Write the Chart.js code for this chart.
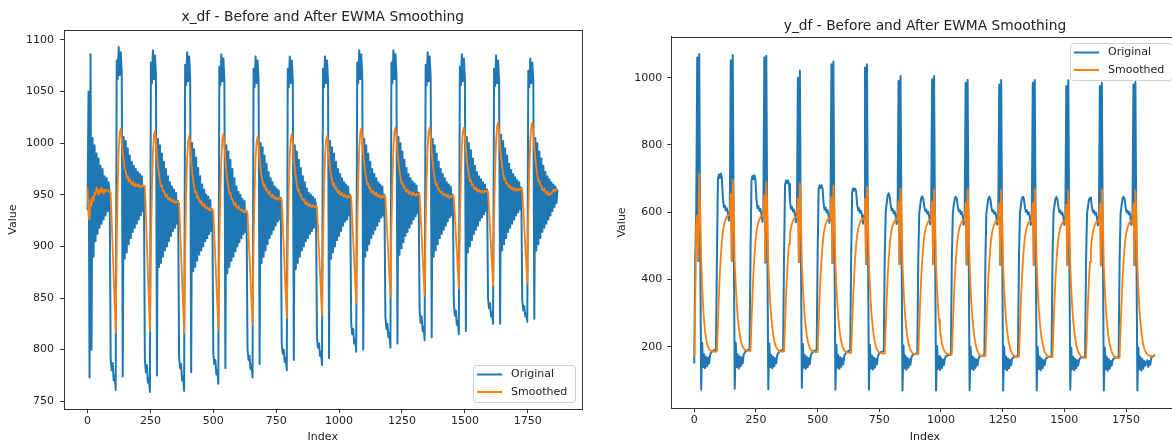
<!DOCTYPE html>
<html>
<head>
<meta charset="utf-8">
<script src="https://cdn.jsdelivr.net/npm/chart.js@4.4.1/dist/chart.umd.min.js"></script>
<style>
  html, body { margin: 0; padding: 0; background: #fff; overflow: hidden; }
  body { width: 1172px; height: 445px; position: relative; }
  canvas { position: absolute; top: 0; }
  #xChart { left: 0; }
  #yChart { left: 600px; }
</style>
</head>
<body>
<canvas id="xChart" width="590" height="445"></canvas>
<canvas id="yChart" width="600" height="445"></canvas>
<script>
// samples every 4 index steps (0, 4, 8, ... 1868)
var sampleStep = 4;

var xTicks = [0, 250, 500, 750, 1000, 1250, 1500, 1750];
var xdfValueTicks = [750, 800, 850, 900, 950, 1000, 1050, 1100];
var ydfValueTicks = [200, 400, 600, 800, 1000];

// x_df - original, one line per drop/recovery cycle
var xdfOriginal = [
  935,1050,773,1086,800,1005,890,998,905,990,912,985,918,978,922,975,926,968,930,966,934,962,950,
  791,780,787,770,775,761,1080,1062,1093,1066,1088,1070,774,1006,888,1002,894,995,902,988,908,982,914,978,918,975,922,972,926,970,930,968,934,958,
  790,778,785,768,772,759,1078,1058,1090,1062,1085,1066,775,1004,880,998,884,990,890,982,896,975,900,968,905,962,910,958,915,955,918,952,922,944,
  792,782,786,770,774,760,1076,1056,1088,1060,1084,1064,778,1000,876,994,880,986,886,976,892,968,896,960,900,955,905,950,908,948,912,945,915,936,
  796,786,790,776,780,767,1074,1056,1086,1060,1082,1062,782,998,874,992,880,984,886,975,890,966,895,958,900,953,904,950,908,946,912,944,914,934,
  800,790,794,781,785,773,1072,1054,1084,1058,1080,1060,786,1000,884,996,890,988,896,980,902,972,908,966,912,962,916,958,920,956,924,954,926,947,
  806,796,800,788,792,780,1072,1054,1084,1058,1080,1060,790,998,878,992,884,984,890,976,896,968,900,962,905,956,908,952,912,950,915,948,918,946,940,
  812,802,806,794,798,785,1072,1054,1084,1058,1080,1060,792,1002,888,996,894,990,900,982,906,975,910,970,915,966,920,962,924,960,926,958,930,950,
  826,815,820,806,810,798,1078,1058,1090,1062,1086,1066,800,1004,890,998,896,990,902,982,908,975,912,970,916,966,920,962,924,960,928,958,930,950,
  832,820,825,812,816,802,1078,1058,1090,1062,1086,1066,806,1006,892,1000,898,992,904,984,910,976,914,970,918,966,922,963,926,961,929,959,932,952,
  838,826,832,818,822,809,1076,1056,1088,1060,1084,1064,812,1004,890,998,896,990,902,982,908,975,912,970,916,966,920,962,924,960,928,958,930,950,
  845,833,838,824,828,815,1074,1056,1086,1060,1082,1062,818,1006,894,1000,900,993,906,985,912,978,916,972,920,968,925,965,928,962,931,960,934,955,
  850,840,845,832,836,825,1072,1055,1085,1058,1080,1060,825,1008,896,1002,902,995,908,988,914,980,918,974,922,970,926,967,930,964,933,962,936,957,
  848,838,842,832,835,827,1070,1054,1082,1058,1078,1060,830,1005,896,1000,902,992,908,985,914,978,918,972,922,968,926,965,930,962,934,960,938,958,942,955
];

var xdfSmoothed = [
  956,930,926,945,940,948,944,952,950,957,954,950,955,952,957,954,951,955,953,955,954,953,953,
  952,925,898,871,844,817,902,958,993,1010,1014,1004,990,982,975,972,966,968,963,965,961,960,963,959,958,961,959,958,960,958,957,959,958,959,
  958,930,902,874,846,818,900,955,990,1007,1012,1002,988,978,970,964,958,959,953,954,950,948,950,946,945,947,944,943,945,943,942,944,943,943,
  942,917,892,867,842,816,896,950,985,1002,1007,998,983,972,964,958,952,953,947,948,944,942,944,940,939,941,938,937,938,936,935,937,935,935,
  934,911,888,866,843,820,898,952,987,1004,1009,999,984,972,963,957,951,952,946,946,942,940,942,938,937,939,936,935,936,934,933,935,933,933,
  932,911,889,867,845,824,900,952,985,1001,1006,998,985,975,968,963,958,960,955,956,952,951,953,949,948,950,947,946,948,946,945,947,946,946,
  945,922,899,876,853,831,904,955,988,1004,1009,1000,986,975,967,960,954,955,950,950,946,945,946,942,941,943,940,939,941,939,938,940,939,938,939,
  938,917,896,875,854,833,904,954,987,1002,1007,999,986,976,969,964,959,961,956,957,953,952,954,950,950,952,949,948,950,948,947,949,948,949,
  948,927,907,886,866,845,914,962,994,1010,1014,1005,991,980,972,966,960,961,956,957,953,952,954,950,950,952,949,948,950,948,947,949,948,949,
  948,929,909,890,870,851,918,965,996,1011,1015,1006,992,981,973,967,961,962,957,958,954,953,955,951,951,953,950,950,952,950,949,951,950,951,
  950,930,911,891,872,852,919,966,996,1011,1015,1006,992,981,972,966,960,961,956,956,953,952,953,950,950,951,949,948,950,948,947,949,948,949,
  948,930,912,895,877,859,923,968,997,1011,1015,1007,994,983,975,969,963,964,959,960,956,955,957,954,953,955,953,952,954,953,952,954,953,954,
  953,935,917,898,880,862,928,973,1002,1016,1020,1011,997,986,977,971,965,966,961,962,958,957,959,956,955,957,955,954,956,955,954,956,955,956,
  955,937,919,901,883,865,930,974,1003,1016,1020,1011,996,985,976,969,963,964,959,959,955,954,956,952,951,953,950,950,952,951,953,955,953,955,956,955
];

// y_df - original, one line per plateau/spike cycle
var ydfOriginal = [
  150,465,610,1060,455,1070,520,72,212,140,178,136,170,142,168,150,175,182,186,188,190,191,192,
  480,698,712,702,715,700,642,615,620,606,612,598,575,600,1052,455,1067,530,75,212,140,178,135,172,142,168,150,176,182,186,188,190,191,192,
  478,694,708,698,710,696,638,612,618,604,610,596,572,598,1060,450,1065,528,74,210,140,176,136,170,142,166,150,175,181,185,188,189,190,191,
  475,682,694,686,695,684,632,610,616,602,608,594,570,596,1000,452,1021,526,78,208,138,176,134,170,140,166,148,174,180,184,187,188,189,190,
  472,668,680,672,680,670,628,608,614,600,606,592,568,594,1040,448,1048,524,72,206,138,175,134,169,140,165,148,173,179,183,186,187,188,189,
  470,660,671,664,670,662,624,606,612,598,604,590,566,592,1030,446,1040,522,72,205,136,174,132,168,138,164,147,172,178,182,184,185,186,187,
  466,600,628,650,656,646,622,606,610,597,603,589,565,590,990,445,1005,520,70,204,136,173,132,167,138,163,146,168,174,177,178,179,180,180,
  464,598,622,642,647,640,618,604,608,596,602,588,564,590,995,445,1005,518,70,202,135,172,131,166,137,162,146,166,171,174,175,176,176,177,
  462,598,622,641,646,640,617,603,607,595,601,587,563,589,985,444,993,518,71,200,135,172,131,166,137,162,145,165,170,172,173,174,174,175,
  460,597,620,640,646,639,616,602,606,595,600,587,563,588,980,444,993,517,70,200,134,171,130,165,136,161,145,164,168,170,171,172,172,172,
  460,597,621,641,646,640,616,601,606,594,600,586,562,588,985,443,993,516,70,199,134,171,130,165,136,160,145,163,167,169,170,170,170,171,
  458,596,620,640,645,638,615,600,605,594,599,586,562,587,975,443,992,516,72,198,134,170,130,164,136,160,144,162,166,168,169,169,169,170,
  458,595,618,638,643,637,615,600,605,593,599,585,561,587,975,442,985,515,70,198,133,170,129,164,135,158,144,161,165,167,168,168,168,168,
  458,596,620,641,646,640,615,600,605,594,600,586,562,588,980,442,987,515,70,198,133,170,129,164,135,158,144,152,160,140,158,146,165,170,172,174,175
];

var ydfSmoothed = [
  170,330,565,590,460,715,600,460,380,318,275,245,224,209,199,193,190,188,187,186,186,185,185,
  188,272,356,422,472,512,542,560,572,580,587,592,590,592,655,458,696,602,452,386,331,291,261,238,221,209,201,196,192,190,189,188,188,188,
  188,270,354,420,470,510,540,558,570,578,585,590,588,590,650,455,690,598,450,384,329,289,259,236,219,207,199,194,190,188,187,186,186,186,
  186,268,350,416,466,506,536,554,566,574,581,586,584,586,640,452,686,596,448,382,327,287,257,234,217,205,197,192,188,186,185,185,184,184,
  184,266,347,413,463,503,533,551,563,571,578,583,581,583,645,450,680,594,447,380,325,285,255,232,215,203,195,190,186,184,183,183,182,182,
  182,264,345,411,461,501,531,549,561,569,576,581,579,581,640,448,675,592,446,378,323,283,253,230,213,201,193,188,184,182,181,181,180,180,
  180,262,343,409,459,499,529,547,559,567,574,579,577,579,632,446,670,590,445,376,321,281,251,228,211,199,191,186,182,180,179,178,178,178,
  178,260,341,407,457,497,527,545,557,565,572,577,575,577,632,445,668,588,444,375,320,280,250,227,210,198,190,185,181,179,178,177,177,177,
  177,259,340,406,456,496,526,544,556,564,571,576,574,576,628,444,668,587,444,374,319,279,249,226,209,197,188,182,177,174,173,172,172,172,
  172,255,337,404,454,494,524,543,555,563,570,575,573,575,626,443,666,586,443,373,318,278,248,225,208,196,187,181,176,173,171,170,170,170,
  170,254,336,403,454,494,524,543,555,563,570,575,573,575,628,443,668,586,443,373,318,278,248,225,208,196,186,180,175,172,170,169,169,169,
  169,253,335,402,453,493,523,542,554,562,569,574,572,574,622,442,665,585,442,372,317,277,247,224,207,195,186,180,175,171,169,168,168,168,
  168,252,334,402,453,493,523,542,554,562,569,574,572,574,624,442,668,585,442,372,317,277,247,224,207,195,185,179,174,170,168,167,167,167,
  167,252,334,402,453,493,523,542,554,562,569,574,572,574,625,442,665,585,442,372,317,277,247,224,207,195,187,182,178,176,174,173,172,172,172,172,172
];

var blue = '#1f77b4';
var orange = '#ff7f0e';
var ink = '#222';
Chart.defaults.font.family = '"DejaVu Sans", sans-serif';

function toPoints(values) {
    return values.map(function (v, i) { return { x: i * sampleStep, y: v }; });
}

// matplotlib style box round the axes
var frame = {
    id: 'frame',
    afterDatasetsDraw: function (chart) {
        var ctx = chart.ctx, a = chart.chartArea;
        ctx.save();
        ctx.strokeStyle = '#333';
        ctx.lineWidth = 1;
        ctx.strokeRect(Math.round(a.left) + 0.5, Math.round(a.top) + 0.5,
            Math.round(a.right - a.left), Math.round(a.bottom - a.top));
        ctx.restore();
    }
};

// legend drawn inside the plot, like plt.legend()
var boxLegend = {
    id: 'boxLegend',
    afterDatasetsDraw: function (chart, args, opts) {
        var ctx = chart.ctx, a = chart.chartArea;
        var sets = chart.data.datasets;
        ctx.save();
        ctx.font = '11px "DejaVu Sans"';
        var textW = Math.max.apply(null, sets.map(function (d) { return ctx.measureText(d.label).width; }));
        var w = Math.round(38 + textW + 8), h = 37;
        var x0 = Math.round(a.right - 7 - w);
        var y0 = opts.where === 'upper right' ? Math.round(a.top + 6) : Math.round(a.bottom - 7 - h);
        ctx.beginPath();
        ctx.roundRect(x0 + 0.5, y0 + 0.5, w, h, 3);
        ctx.fillStyle = 'rgba(255,255,255,0.8)';
        ctx.fill();
        ctx.strokeStyle = '#d0d0d0';
        ctx.lineWidth = 1;
        ctx.stroke();
        sets.forEach(function (d, i) {
            var y = y0 + 9.5 + i * 17.5;
            ctx.beginPath();
            ctx.moveTo(x0 + 4, y);
            ctx.lineTo(x0 + 29, y);
            ctx.strokeStyle = d.borderColor;
            ctx.lineWidth = 2;
            ctx.stroke();
            ctx.fillStyle = ink;
            ctx.textBaseline = 'middle';
            ctx.fillText(d.label, x0 + 38, y);
        });
        ctx.restore();
    }
};

function makeChart(id, o) {
    var ctx = document.getElementById(id).getContext('2d');
    var tickFont = { size: 11 };
    return new Chart(ctx, {
        type: 'line',
        data: {
            datasets: [{
                label: 'Original',
                data: toPoints(o.original),
                borderColor: blue,
                order: 1
            }, {
                label: 'Smoothed',
                data: toPoints(o.smoothed),
                borderColor: orange,
                borderWidth: 1.8,
                order: 0
            }]
        },
        options: {
            responsive: false,
            animation: false,
            devicePixelRatio: 1,
            layout: { padding: { left: 0, right: o.padRight, top: 0, bottom: 0 } },
            elements: {
                point: { radius: 0 },
                line: { borderWidth: 2, tension: 0, borderJoinStyle: 'round', fill: false }
            },
            plugins: {
                legend: { display: false },
                tooltip: { enabled: false },
                title: {
                    display: true,
                    fullSize: false,
                    text: o.title,
                    color: ink,
                    font: { size: 13.8, weight: 'normal' },
                    padding: { top: o.titleTop, bottom: o.titleBottom }
                },
                boxLegend: { where: o.legendAt }
            },
            scales: {
                x: {
                    type: 'linear',
                    min: -93.5,
                    max: 1963.5,
                    afterBuildTicks: function (s) { s.ticks = xTicks.map(function (v) { return { value: v }; }); },
                    afterFit: function (s) { s.height = o.xAxisHeight; },
                    ticks: { color: ink, font: tickFont, padding: 2, maxRotation: 0, autoSkip: false,
                        callback: function (v) { return String(v); } },
                    grid: { drawOnChartArea: false, tickLength: 4, color: '#333' },
                    border: { display: true, color: '#333' },
                    title: { display: true, text: 'Index', color: ink, font: tickFont, padding: { top: 0, bottom: 1.5 } }
                },
                y: {
                    type: 'linear',
                    min: o.yMin,
                    max: o.yMax,
                    afterBuildTicks: function (s) { s.ticks = o.yTicks.map(function (v) { return { value: v }; }); },
                    afterFit: function (s) { s.width = o.yAxisWidth; },
                    ticks: { color: ink, font: tickFont, padding: o.yTickPad, autoSkip: false,
                        callback: function (v) { return String(v); } },
                    grid: { drawOnChartArea: false, tickLength: 4, color: '#333' },
                    border: { display: true, color: '#333' },
                    title: { display: true, text: 'Value', color: ink, font: tickFont, padding: { top: o.yTitlePad, bottom: 0 } }
                }
            }
        },
        plugins: [frame, boxLegend]
    });
}

makeChart('xChart', {
    title: 'x_df - Before and After EWMA Smoothing',
    original: xdfOriginal,
    smoothed: xdfSmoothed,
    yTicks: xdfValueTicks,
    yMin: 742.5,
    yMax: 1109.5,
    padRight: 8.5,
    titleTop: 9.5,
    titleBottom: 4,
    xAxisHeight: 36,
    yAxisWidth: 64,
    yTickPad: 6,
    yTitlePad: 6.4,
    legendAt: 'lower right'
});

makeChart('yChart', {
    title: 'y_df - Before and After EWMA Smoothing',
    original: ydfOriginal,
    smoothed: ydfSmoothed,
    yTicks: ydfValueTicks,
    yMin: 18,
    yMax: 1121,
    padRight: 21.3,
    titleTop: 18.2,
    titleBottom: 2.2,
    xAxisHeight: 37,
    yAxisWidth: 71.2,
    yTickPad: 5,
    yTitlePad: 15.1,
    legendAt: 'upper right'
});
</script>
</body>
</html>
